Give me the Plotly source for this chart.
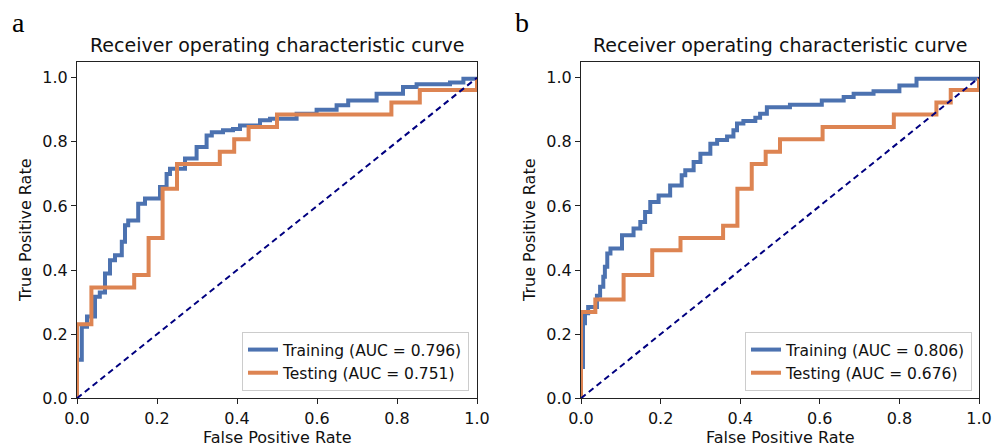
import plotly.graph_objects as go

# ---------------- data ----------------
train_a_fpr = [0, 0, 0.012, 0.025, 0.045, 0.057, 0.07, 0.0825, 0.095, 0.112, 0.12, 0.128, 0.153, 0.17,
               0.2075, 0.224, 0.2325, 0.27, 0.299, 0.324, 0.337, 0.365, 0.39, 0.4075, 0.4575, 0.4825,
               0.549, 0.599, 0.649, 0.678, 0.749, 0.815, 0.849, 0.9325, 0.966, 1.0]
train_a_tpr = [0, 0.12, 0.223, 0.255, 0.317, 0.33, 0.389, 0.431, 0.446, 0.488, 0.54, 0.555, 0.607, 0.623,
               0.659, 0.70, 0.716, 0.748, 0.784, 0.82, 0.83, 0.836, 0.84, 0.851, 0.867, 0.872,
               0.888, 0.9, 0.914, 0.929, 0.95, 0.971, 0.98, 0.985, 0.997, 1.0]

test_a_fpr = [0, 0, 0.036, 0.143, 0.179, 0.214, 0.25, 0.357, 0.393, 0.429, 0.5, 0.786, 0.857, 1.0]
test_a_tpr = [0, 0.231, 0.346, 0.385, 0.5, 0.654, 0.731, 0.769, 0.808, 0.846, 0.885, 0.923, 0.962, 1.0]

train_b_fpr = [0, 0, 0.005, 0.01, 0.018, 0.04, 0.048, 0.056, 0.06, 0.066, 0.074, 0.103, 0.132, 0.149,
               0.161, 0.174, 0.195, 0.224, 0.253, 0.262, 0.283, 0.3, 0.325, 0.342, 0.367, 0.383, 0.392,
               0.408, 0.438, 0.45, 0.467, 0.525, 0.605, 0.66, 0.685, 0.735, 0.80, 0.843, 1.0]
train_b_tpr = [0, 0.098, 0.234, 0.265, 0.285, 0.32, 0.348, 0.379, 0.41, 0.452, 0.467, 0.509, 0.53, 0.55,
               0.581, 0.612, 0.633, 0.664, 0.696, 0.711, 0.737, 0.763, 0.794, 0.806, 0.817, 0.836, 0.857,
               0.865, 0.875, 0.888, 0.908, 0.916, 0.929, 0.94, 0.95, 0.958, 0.976, 0.997, 1.0]

test_b_fpr = [0, 0, 0.036, 0.107, 0.179, 0.25, 0.357, 0.393, 0.429, 0.464, 0.5, 0.607, 0.786, 0.893, 0.929, 1.0]
test_b_tpr = [0, 0.269, 0.308, 0.385, 0.462, 0.5, 0.538, 0.654, 0.731, 0.769, 0.808, 0.846, 0.885, 0.923, 0.962, 1.0]

auc_train = [0.796, 0.806]
auc_test = [0.751, 0.676]
panel_labels = ["a", "b"]
title_text = "Receiver operating characteristic curve"
x_label = "False Positive Rate"
y_label = "True Positive Rate"
tick_vals = [0.0, 0.2, 0.4, 0.6, 0.8, 1.0]
tick_text = ["0.0", "0.2", "0.4", "0.6", "0.8", "1.0"]
diag = [0, 1]

# ---------------- style ----------------
W, H = 1005, 446
BLUE = "#4c72b0"
ORANGE = "#dd8452"
FONT = "DejaVu Sans"
x_domains = [[77 / W, 477 / W], [581 / W, 979 / W]]
y_domain = [1 - 398.3 / H, 1 - 61.7 / H]

fig = go.Figure()

curves = [(train_a_fpr, train_a_tpr, test_a_fpr, test_a_tpr),
          (train_b_fpr, train_b_tpr, test_b_fpr, test_b_tpr)]

for i, (trf, trt, tef, tet) in enumerate(curves):
    xa = "x" if i == 0 else "x2"
    ya = "y" if i == 0 else "y2"
    lg = "legend" if i == 0 else "legend2"
    fig.add_trace(go.Scatter(x=trf, y=trt, mode="lines", line=dict(color=BLUE, width=4, shape="hv"),
                             name=f"Training (AUC = {auc_train[i]:.3f})", xaxis=xa, yaxis=ya, legend=lg))
    fig.add_trace(go.Scatter(x=tef, y=tet, mode="lines", line=dict(color=ORANGE, width=4, shape="hv"),
                             name=f"Testing (AUC = {auc_test[i]:.3f})", xaxis=xa, yaxis=ya, legend=lg))
    fig.add_trace(go.Scatter(x=diag, y=diag, mode="lines", line=dict(color="navy", width=2, dash="6px,4px"),
                             showlegend=False, xaxis=xa, yaxis=ya))

axis_common = dict(showgrid=False, zeroline=False, showline=True, linecolor="#222", linewidth=1,
                   mirror=True, ticks="outside", ticklen=5, tickcolor="#222", tickwidth=1,
                   tickvals=tick_vals, ticktext=tick_text, automargin=False,
                   tickfont=dict(family=FONT, size=16, color="#111"))

layout = dict(width=W, height=H, margin=dict(l=0, r=0, t=0, b=0, autoexpand=False),
              paper_bgcolor="white", plot_bgcolor="white",
              font=dict(family=FONT, color="#111"))
layout["xaxis"] = dict(domain=x_domains[0], range=[0, 1], anchor="y", **axis_common)
layout["yaxis"] = dict(domain=y_domain, range=[0, 1.05], anchor="x", **axis_common)
layout["xaxis2"] = dict(domain=x_domains[1], range=[0, 1], anchor="y2", **axis_common)
layout["yaxis2"] = dict(domain=y_domain, range=[0, 1.05], anchor="x2", **axis_common)

leg_common = dict(xanchor="right", yanchor="bottom", bgcolor="rgba(255,255,255,0.8)",
                  bordercolor="#cccccc", borderwidth=1, font=dict(family=FONT, size=15.5, color="#111"),
                  tracegroupgap=0, itemwidth=30)
layout["legend"] = dict(x=469 / W, y=1 - 391 / H, **leg_common)
layout["legend2"] = dict(x=972 / W, y=1 - 391 / H, **leg_common)
fig.update_layout(**layout)

for i in range(2):
    x0, x1 = x_domains[i]
    xc = (x0 + x1) / 2
    fig.add_annotation(text=title_text, x=xc, y=1 - 45 / H, xref="paper", yref="paper",
                       showarrow=False, font=dict(family=FONT, size=19, color="#111"),
                       xanchor="center", yanchor="middle")
    fig.add_annotation(text=x_label, x=xc, y=1 - 437 / H, xref="paper", yref="paper",
                       showarrow=False, font=dict(family=FONT, size=16, color="#111"),
                       xanchor="center", yanchor="middle")
    fig.add_annotation(text=y_label, x=(x0 * W - 52) / W, y=(y_domain[0] + y_domain[1]) / 2,
                       xref="paper", yref="paper", textangle=-90,
                       showarrow=False, font=dict(family=FONT, size=16, color="#111"),
                       xanchor="center", yanchor="middle")
    fig.add_annotation(text=panel_labels[i], x=(18 if i == 0 else 522) / W, y=1 - 22 / H,
                       xref="paper", yref="paper", showarrow=False,
                       font=dict(family="Liberation Serif", size=28, color="#000"),
                       xanchor="center", yanchor="middle")

fig.write_html("out.html")
